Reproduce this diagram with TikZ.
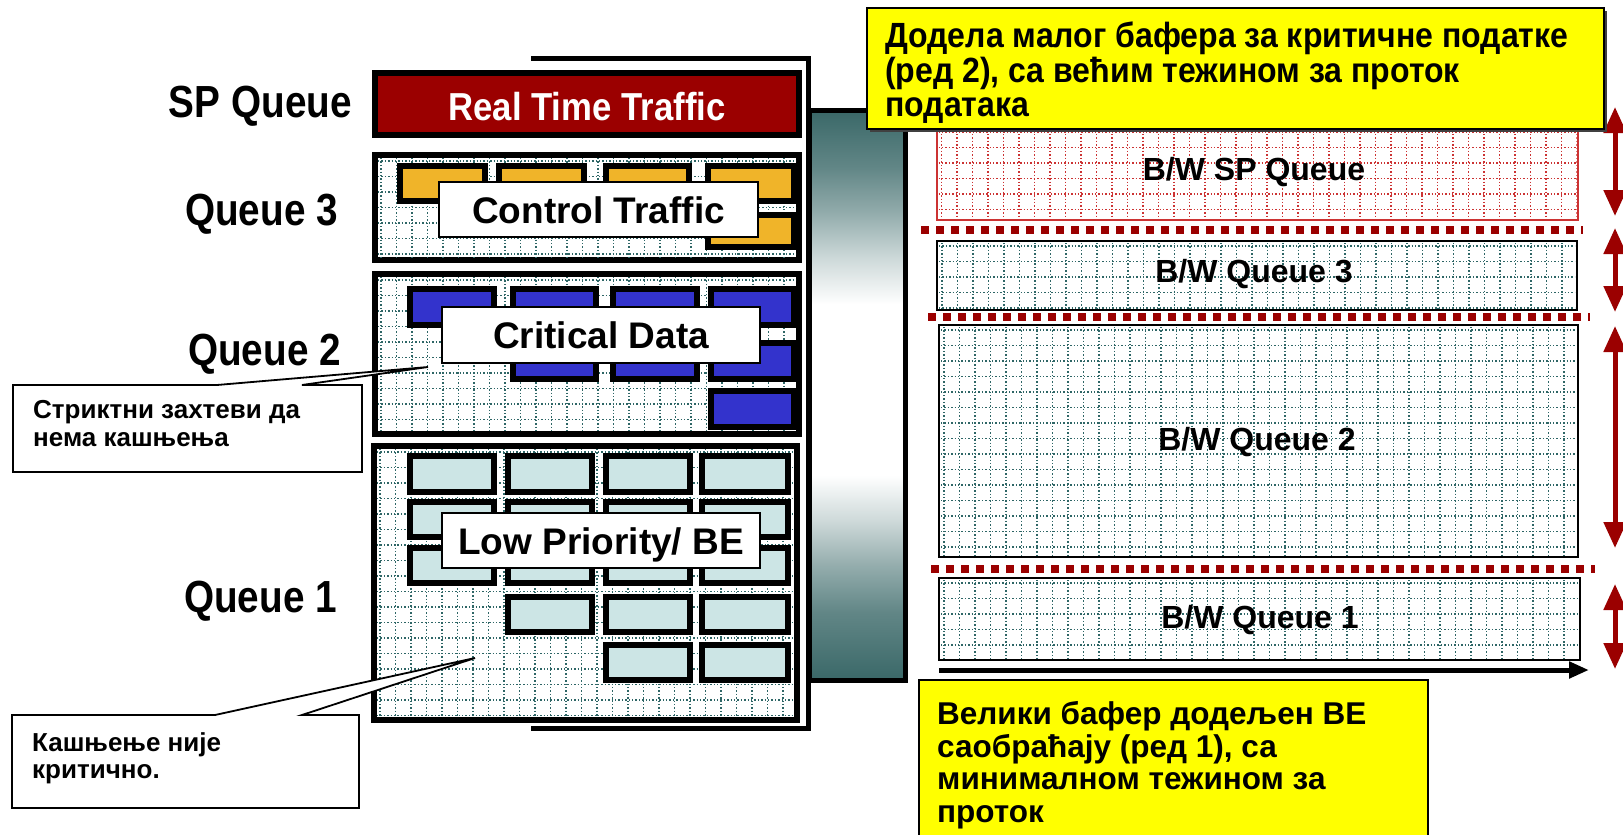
\documentclass[tikz,border=0pt]{standalone}
\usepackage{fontspec}
\setmainfont{Liberation Sans}
\newfontfamily\condsans{Liberation Sans}[FakeStretch=0.89]
\newfontfamily\labelsans{Liberation Sans}[FakeStretch=0.86]
\newfontfamily\notesans{Liberation Sans}[FakeStretch=0.915]
\usetikzlibrary{arrows.meta}

\definecolor{rtred}{HTML}{9B0000}
\definecolor{ctlorange}{HTML}{F0B429}
\definecolor{critblue}{HTML}{3333CC}
\definecolor{lowteal}{HTML}{CCE5E5}
\definecolor{gridteal}{HTML}{2E6666}
\definecolor{barteal}{HTML}{3A6868}
\colorlet{bartealA}{barteal!80!white}
\colorlet{bartealB}{barteal!55!white}
\colorlet{bartealC}{barteal!25!white}
\definecolor{spred}{HTML}{CC3333}
\definecolor{noteyellow}{HTML}{FFFF00}

% scheduler bar: dark ends, white centre (25bp..75bp spans the bar)
\pgfdeclareverticalshading{barshade}{100bp}{color(0bp)=(barteal); color(25bp)=(barteal); color(31bp)=(bartealA); color(35bp)=(bartealB); color(39bp)=(bartealC); color(43bp)=(white); color(58bp)=(white); color(62bp)=(bartealC); color(66bp)=(bartealB); color(70bp)=(bartealA); color(75bp)=(barteal); color(100bp)=(barteal)}

% dotted square grid clipped to a rectangle: x1 y1 x2 y2 style
\newcommand\dotfield[5]{%
  \begin{scope}
    \clip (#1,#2) rectangle (#3,#4);
    \foreach \k in {0,...,44}{%
      \draw[#5] ({#1+3+15.5*\k},#2) -- ++(0,300);
      \draw[#5] (#1,{#2+3+15.5*\k}) -- ++(700,0);
    }
  \end{scope}}

\tikzset{
  qframe/.style={draw=black, line width=6pt, fill=white},
  pkt/.style={draw=black, line width=6pt},
  tag/.style={draw=black, line width=1.3pt, fill=white, inner sep=0pt,
    text height=27pt, text depth=0pt,
    font=\bfseries\fontsize{37}{40}\selectfont},
  dotgrid/.style={draw=gridteal, line width=1.4pt, dash pattern=on 1.4pt off 2pt},
  spdots/.style={draw=spred, line width=1.4pt, dash pattern=on 1.4pt off 2pt},
  qname/.style={font=\labelsans\bfseries\fontsize{45}{48}\selectfont, anchor=base east, inner sep=0pt},
  bwbox/.style={draw=black, line width=2pt},
  bwtext/.style={font=\bfseries\fontsize{32}{34}\selectfont, anchor=base, inner sep=0pt},
  sepline/.style={draw=rtred, line width=8pt, dash pattern=on 8pt off 7pt},
  span/.style={draw=rtred, line width=5pt,
    {Triangle[width=22pt,length=26pt]}-{Triangle[width=22pt,length=26pt]}},
  note/.style={draw=black, line width=1.8pt, fill=white},
  notetext/.style={font=\bfseries\fontsize{26}{28}\selectfont, anchor=base west, inner sep=0pt},
  yellownote/.style={draw=black, line width=1.5pt, fill=noteyellow},
  toptext/.style={font=\notesans\bfseries\fontsize{35}{36}\selectfont, anchor=base west, inner sep=0pt},
  bottext/.style={font=\bfseries\fontsize{31.5}{33}\selectfont, anchor=base west, inner sep=0pt},
}

\begin{document}
\begin{tikzpicture}[x=1pt, y=-1pt, line join=miter]
\useasboundingbox (0,0) rectangle (1623,835);
\clip (0,0) rectangle (1623,835);

% bracket behind the queue stack
\draw[line width=5pt] (531,58) -- (808,58) -- (808,728) -- (531,728);

% scheduler bar
\shadedraw[shading=barshade, line width=5pt] (809.5,110.5) rectangle (905.5,680.5);

% ---- strict priority queue
\draw[qframe, fill=rtred] (375,73) rectangle (799,135);
\node[font=\condsans\bfseries\fontsize{39}{40}\selectfont, text=white, anchor=base, inner sep=0pt] (rt) at (587,120) {Real Time Traffic};

% ---- queue 3
\draw[qframe] (375,155) rectangle (799,260);
\dotfield{378}{158}{796}{257}{dotgrid}
\foreach \a/\b/\c/\d in {400/166/485/201, 499/166/584/201, 606/166/689/201, 708/166/794/201, 708/215/794/247}
  \draw[pkt, fill=ctlorange] (\a,\b) rectangle (\c,\d);
\node[tag, minimum width=319pt, minimum height=55pt] (ctl) at (598.5,209.5) {Control Traffic};

% ---- queue 2
\draw[qframe] (375,274) rectangle (799,434);
\dotfield{378}{277}{796}{431}{dotgrid}
\foreach \a/\b/\c/\d in {410/289/494/325, 513/289/596/325, 613/289/697/325, 711/289/794/325,
                         513/343/596/379, 613/343/697/379, 711/343/794/379, 711/391/794/427}
  \draw[pkt, fill=critblue] (\a,\b) rectangle (\c,\d);
\node[tag, minimum width=318pt, minimum height=56pt] (crit) at (601,335) {Critical Data};

% ---- queue 1
\draw[qframe] (374,446) rectangle (797,720);
\dotfield{377}{449}{794}{717}{dotgrid}
\foreach \b/\d in {456/492, 502/537, 548/583}
  \foreach \a/\c in {410/494, 508/592, 606/690, 702/788}
    \draw[pkt, fill=lowteal] (\a,\b) rectangle (\c,\d);
\foreach \a/\c in {508/592, 606/690, 702/788}
  \draw[pkt, fill=lowteal] (\a,597) rectangle (\c,632);
\foreach \a/\c in {606/690, 702/788}
  \draw[pkt, fill=lowteal] (\a,645) rectangle (\c,680);
\node[tag, minimum width=318pt, minimum height=55pt] (low) at (601,540.5) {Low Priority/ BE};

% queue names
\node[qname] (spq) at (352,117) {SP Queue};
\node[qname] (q3)  at (338,225) {Queue 3};
\node[qname] (q2)  at (341,365) {Queue 2};
\node[qname] (q1)  at (337,612) {Queue 1};

% ---- bandwidth shares
\fill[white] (937,112) rectangle (1578,220);
\dotfield{938.5}{113.5}{1576.5}{218.5}{spdots}
\draw[draw=spred, line width=1.5pt] (937,112) rectangle (1578,220);
\node[bwtext] (bwsp) at (1254,180) {B/W SP Queue};

\fill[white] (937,241) rectangle (1577,310);
\dotfield{939}{243}{1575}{308}{dotgrid}
\draw[bwbox] (937,241) rectangle (1577,310);
\node[bwtext] (bw3) at (1254,282) {B/W Queue 3};

\fill[white] (939,325) rectangle (1578,557);
\dotfield{941}{327}{1576}{555}{dotgrid}
\draw[bwbox] (939,325) rectangle (1578,557);
\node[bwtext] (bw2) at (1257,450) {B/W Queue 2};

\fill[white] (939,578) rectangle (1580,660);
\dotfield{941}{580}{1578}{658}{dotgrid}
\draw[bwbox] (939,578) rectangle (1580,660);
\node[bwtext] (bw1) at (1260,628) {B/W Queue 1};

% share boundaries
\draw[sepline] (921,230) -- (1583,230);
\draw[sepline] (928,317) -- (1590,317);
\draw[sepline] (931,569) -- (1595,569);

% time axis
\coordinate (t0) at (939,670);
\coordinate (t1) at (1589,670);
\draw[line width=5pt, -{Triangle[width=16pt,length=20pt]}] (t0) -- (t1);

% share extents
\coordinate (s1a) at (1615,107); \coordinate (s1b) at (1615,216);
\coordinate (s2a) at (1615,228); \coordinate (s2b) at (1615,312);
\coordinate (s3a) at (1615,326); \coordinate (s3b) at (1615,548);
\coordinate (s4a) at (1615,584); \coordinate (s4b) at (1615,669);
\draw[span] (s1a) -- (s1b);
\draw[span] (s2a) -- (s2b);
\draw[span] (s3a) -- (s3b);
\draw[span] (s4a) -- (s4b);

% ---- yellow notes
\fill[black!75] (870,11) rectangle (1607,132);
\draw[yellownote] (867,8) rectangle (1604,129);
\node[toptext] (n1a) at (885,47)  {Додела малог бафера за критичне податке};
\node[toptext] (n1b) at (885,82)  {(ред 2), са већим тежином за проток};
\node[toptext] (n1c) at (885,116) {података};

\draw[yellownote] (919,680) rectangle (1428,850);
\node[bottext] (n2a) at (937,724) {Велики бафер додељен BE};
\node[bottext] (n2b) at (937,757) {саобраћају (ред 1), са};
\node[bottext] (n2c) at (937,789) {минималном тежином за};
\node[bottext] (n2d) at (937,822) {проток};

% ---- callouts
\coordinate (p2) at (428,367);
\draw[note] (13,385) -- (217,385) -- (p2) -- (302,385) -- (362,385) -- (362,472) -- (13,472) -- cycle;
\node[notetext] (c2a) at (33,418) {Стриктни захтеви да};
\node[notetext] (c2b) at (33,446) {нема кашњења};

\coordinate (p1) at (475,658);
\draw[note] (12,715) -- (215,715) -- (p1) -- (302,715) -- (359,715) -- (359,808) -- (12,808) -- cycle;
\node[notetext] (c1a) at (32,751) {Кашњење није};
\node[notetext] (c1b) at (32,778) {критично.};
\end{tikzpicture}
\end{document}
